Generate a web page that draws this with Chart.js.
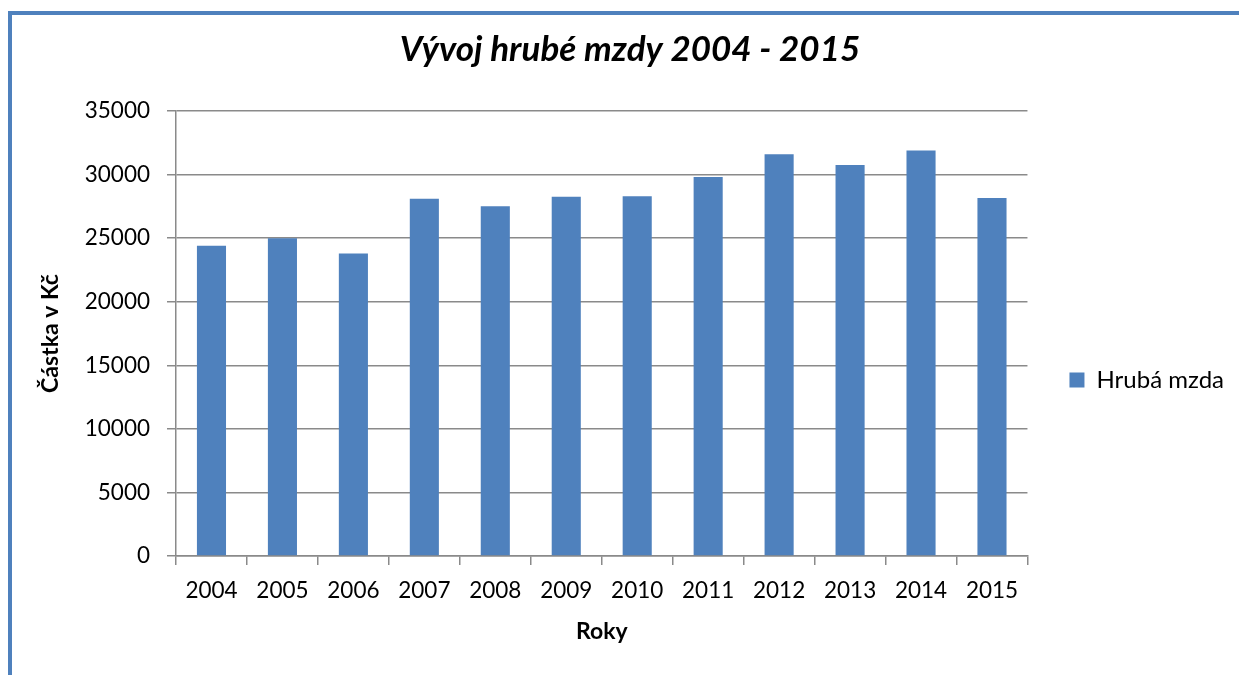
<!DOCTYPE html>
<html>
<head>
<meta charset="utf-8">
<script src="https://cdn.jsdelivr.net/npm/chart.js@4"></script>
<style>
  html, body { margin: 0; padding: 0; overflow: hidden; background: #fff; }
  #wrap { position: absolute; left: 12px; top: 0; width: 1227px; height: 760px; }
  #frame {
    position: absolute; left: 8px; top: 11px; width: 1300px; height: 800px;
    border-left: 4px solid #4F81BD; border-top: 4px solid #4F81BD;
    pointer-events: none;
  }
</style>
</head>
<body>
<div id="wrap"><canvas id="chart"></canvas></div>
<div id="frame"></div>
<script>
// data
const years = ['2004', '2005', '2006', '2007', '2008', '2009', '2010', '2011', '2012', '2013', '2014', '2015'];
const wages = [24400, 25000, 23800, 28100, 27500, 28250, 28300, 29800, 31600, 30750, 31900, 28150];
const seriesName = 'Hrubá mzda';

const font = 'Lato, "Open Sans", sans-serif';
const gridColor = '#8a8a8a';

const ctx = document.getElementById('chart').getContext('2d');
const chart = new Chart(ctx, {
    type: 'bar',
    data: {
        labels: years,
        datasets: [{
            label: seriesName,
            data: wages,
            backgroundColor: '#4F81BD',
            categoryPercentage: 1,
            barPercentage: 0.41
        }]
    },
    options: {
        responsive: true,
        maintainAspectRatio: false,
        animation: false,
        layout: { padding: { left: 14, right: 5, top: 0, bottom: 0 } },
        plugins: {
            title: {
                display: true,
                text: 'Vývoj hrubé mzdy 2004 - 2015',
                color: '#000',
                font: { family: font, size: 35, weight: 'bold', style: 'italic' },
                padding: { top: 29, bottom: 40 }
            },
            legend: {
                position: 'right',
                labels: {
                    color: '#000',
                    font: { family: font, size: 24 },
                    boxWidth: 15,
                    boxHeight: 15,
                    padding: 42
                }
            },
            tooltip: { enabled: false }
        },
        scales: {
            x: {
                afterFit: (s) => { s.height = 204; },
                grid: {
                    drawOnChartArea: false,
                    color: gridColor,
                    lineWidth: 1.5,
                    tickLength: 9
                },
                border: { color: gridColor, width: 1.5 },
                ticks: {
                    color: '#000',
                    font: { family: font, size: 22.5 },
                    padding: 12,
                    maxRotation: 0
                },
                title: {
                    display: true,
                    text: 'Roky',
                    color: '#000',
                    font: { family: font, size: 23, weight: 'bold' },
                    padding: { top: 0, bottom: 115 }
                }
            },
            y: {
                min: 0,
                max: 35000,
                afterFit: (s) => { s.width = 150; },
                grid: {
                    color: gridColor,
                    lineWidth: 1.5,
                    tickLength: 9
                },
                border: { color: gridColor, width: 1.5 },
                ticks: {
                    stepSize: 5000,
                    color: '#000',
                    font: { family: font, size: 22.5 },
                    padding: 17,
                    callback: (v) => String(v)
                },
                title: {
                    display: true,
                    text: 'Částka v Kč',
                    color: '#000',
                    font: { family: font, size: 23, weight: 'bold' },
                    padding: { top: 11, bottom: 0 }
                }
            }
        }
    }
});
</script>
</body>
</html>
